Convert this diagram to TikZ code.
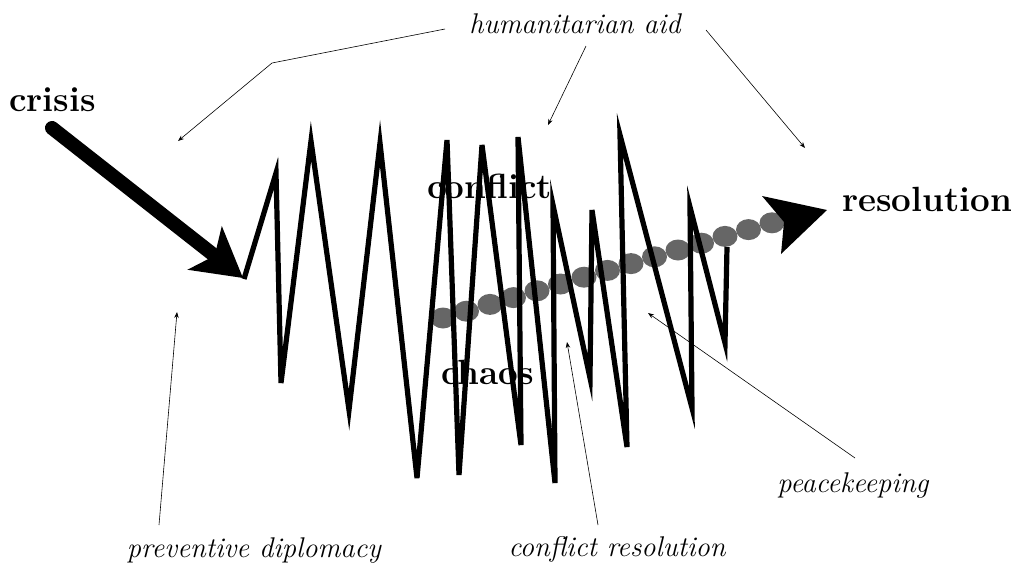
\documentclass[tikz,border=0pt]{standalone}
\usetikzlibrary{arrows.meta}
\begin{document}
\begin{tikzpicture}[x=1pt,y=-1pt,
  boldlbl/.style={font=\fontsize{35}{40}\selectfont\bfseries, inner sep=0pt},
  itallbl/.style={font=\fontsize{28.5}{32}\selectfont\itshape, inner sep=0pt},
  thinarrow/.style={line width=0.6pt, -{Stealth[length=6pt,width=4.5pt]}},
  zigline/.style={line width=5.2pt, line join=miter},
  dotfill/.style={fill=black!60, draw=none}]
\useasboundingbox (0,0) rectangle (1014,566);

% labels
\node[boldlbl, anchor=base west] (crisis) at (9,111) {crisis};
\node[boldlbl, anchor=base west] (conflict) at (427,198) {conflict};
\node[boldlbl, anchor=base west] (chaos) at (441,384) {chaos};
\node[boldlbl, anchor=base west] (resolution) at (842,211) {resolution};
\node[itallbl, anchor=base] (hum) at (575,33) {humanitarian aid};
\node[itallbl, anchor=base] (prev) at (254,557) {preventive diplomacy};
\node[itallbl, anchor=base] (cres) at (617,556) {conflict resolution};
\node[itallbl, anchor=base] (peace) at (853,492) {peacekeeping};

% connector coordinates
\coordinate (h1s) at (445,29);
\coordinate (h1b) at (272,63);
\coordinate (h1t) at (178,141);
\coordinate (h2s) at (586,46);
\coordinate (h2t) at (548,125);
\coordinate (h3s) at (706,30);
\coordinate (h3t) at (805,148);
\coordinate (pds) at (159,525);
\coordinate (pdt) at (177,312);
\coordinate (crs) at (598,525);
\coordinate (crt) at (567,342);
\coordinate (pks) at (855,458);
\coordinate (pkt) at (648,313);

\draw[thinarrow] (h1s) -- (h1b) -- (h1t);
\draw[thinarrow] (h2s) -- (h2t);
\draw[thinarrow] (h3s) -- (h3t);
\draw[thinarrow] (pds) -- (pdt);
\draw[thinarrow] (crs) -- (crt);
\draw[thinarrow] (pks) -- (pkt);

% dotted arrow (peace process)
\foreach \i in {0,...,14}
  \fill[dotfill] ({443+23.5*\i},{318-6.8*\i}) ellipse [x radius=12.5pt, y radius=10.5pt];
\coordinate (rtip) at (827,210);
\fill[black] (rtip) -- (762,196) -- (784,222) -- (781,254) -- cycle;

% zigzag
\draw[zigline] (244,279) -- (276,173) -- (281,383) -- (311,141) -- (349,410)
  -- (380,143) -- (417,478) -- (447,140) -- (459,475) -- (482,145) -- (521,445)
  -- (518,137) -- (555,483) -- (553,205) -- (590,378) -- (592,210) -- (627,447)
  -- (620,135) -- (692,408) -- (690,207) -- (725,343) -- (727,247);

% crisis arrow
\coordinate (cAs) at (52,128);
\coordinate (cAt) at (243,278);
\draw[line width=14pt, line cap=round, -{Stealth[length=48pt,width=54pt,inset=12pt]}] (cAs) -- (cAt);
\end{tikzpicture}
\end{document}
